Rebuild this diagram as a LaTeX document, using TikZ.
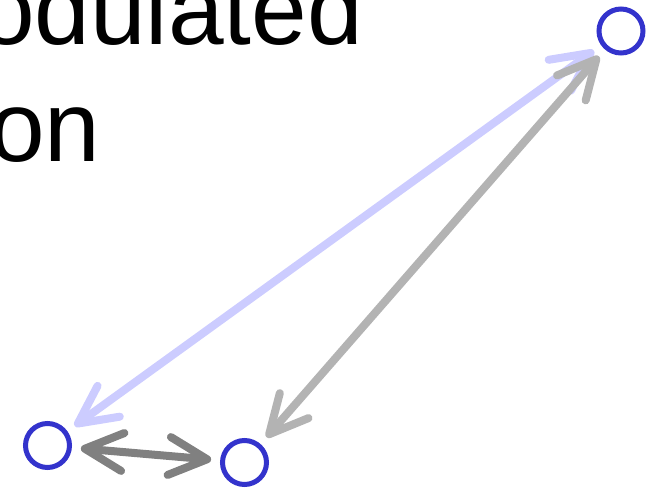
\documentclass[tikz,border=0pt]{standalone}
\usepackage{fontspec}
\setmainfont{Liberation Sans}
\usetikzlibrary{arrows.meta}

\definecolor{ringblue}{HTML}{3333CC}
\definecolor{linkblue}{HTML}{CCCCFF}
\definecolor{linkgray}{HTML}{B3B3B3}
\definecolor{linkdark}{HTML}{808080}

\begin{document}
\begin{tikzpicture}[x=1pt, y=1pt,
  ring/.style={circle, draw=ringblue, line width=5pt, minimum size=44pt, inner sep=0pt},
  bigtext/.style={font=\fontsize{100}{117}\selectfont, anchor=base west, inner sep=0pt},
  link/.style={{Straight Barb[length=38pt, width=38pt, round]}-{Straight Barb[length=38pt, width=38pt, round]},
    line width=8pt, line cap=round, shorten >=9pt, shorten <=9pt}]

\clip (0,0) rectangle (656,488);

\node[bigtext] (modtxt) at (-21,443) {odulated};
\node[bigtext] (ontxt) at (-11,326) {on};

\node[ring] (top) at (621,457) {};
\node[ring] (left) at (47.5,42.5) {};
\node[ring] (mid) at (244.5,25.5) {};

\draw[link, linkblue] (left) -- (top);
\draw[link, linkgray] (mid) -- (top);
\draw[link, linkdark] (left) -- (mid);
\end{tikzpicture}
\end{document}
